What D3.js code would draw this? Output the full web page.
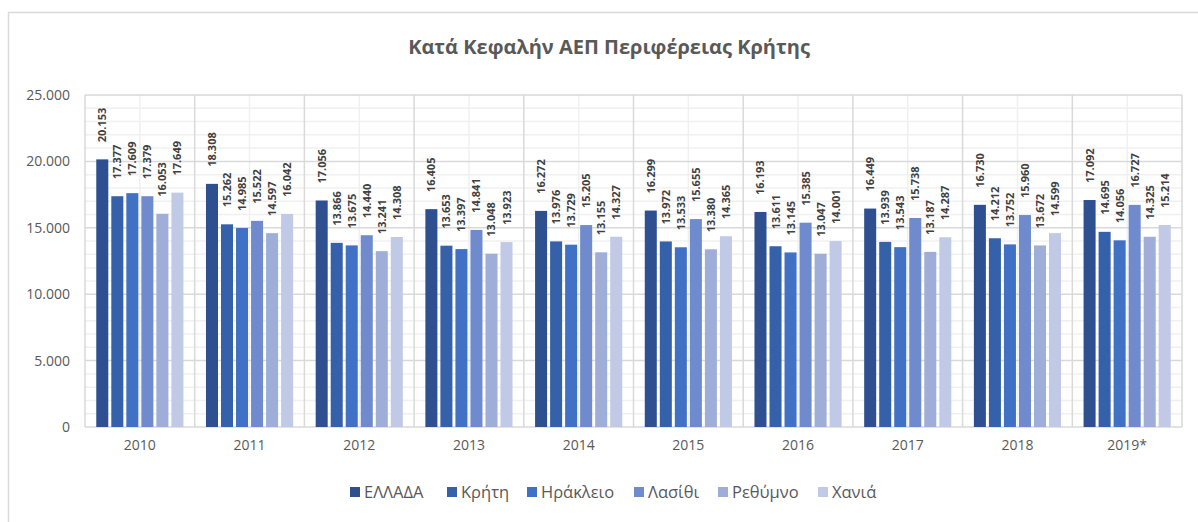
<!DOCTYPE html>
<html lang="el">
<head>
<meta charset="UTF-8">
<title>Κατά Κεφαλήν ΑΕΠ Περιφέρειας Κρήτης</title>
<script src="https://d3js.org/d3.v7.min.js"></script>
<style>
  body { margin: 0; background: #fff; }
  svg text { font-family: "Open Sans", "Segoe UI", sans-serif; }
</style>
</head>
<body>
<svg id="chart" width="1198" height="522"></svg>
<script>
// data
const years = ["2010", "2011", "2012", "2013", "2014", "2015", "2016", "2017", "2018", "2019*"];
const regions = ["ΕΛΛΑΔΑ", "Κρήτη", "Ηράκλειο", "Λασίθι", "Ρεθύμνο", "Χανιά"];
const ellada   = [20153, 18308, 17056, 16405, 16272, 16299, 16193, 16449, 16730, 17092];
const kriti    = [17377, 15262, 13866, 13653, 13976, 13972, 13611, 13939, 14212, 14695];
const irakleio = [17609, 14985, 13675, 13397, 13729, 13533, 13145, 13543, 13752, 14056];
const lasithi  = [17379, 15522, 14440, 14841, 15205, 15655, 15385, 15738, 15960, 16727];
const rethymno = [16053, 14597, 13241, 13048, 13155, 13380, 13047, 13187, 13672, 14325];
const chania   = [17649, 16042, 14308, 13923, 14327, 14365, 14001, 14287, 14599, 15214];
const yTicks = [0, 5000, 10000, 15000, 20000, 25000];

const seriesValues = [ellada, kriti, irakleio, lasithi, rethymno, chania];
const colors = ["#2f5090", "#3560aa", "#4171c4", "#6f8bcd", "#9eaed9", "#c0cae7"];

const svg = d3.select("#chart");
const fmt = d => d3.format(",")(d).replace(/,/g, ".");

const margin = { left: 85, right: 1182, top: 95, bottom: 427 };

// outer frame
svg.append("rect")
    .attr("x", 8.5).attr("y", 12.5)
    .attr("width", 1200).attr("height", 520)
    .attr("fill", "none").attr("stroke", "#d9d9d9").attr("stroke-width", 1.5);

const x = d3.scaleBand().domain(years).range([margin.left, margin.right]);
const xInner = d3.scaleBand().domain(regions)
    .range([0, x.bandwidth()]).paddingInner(0.2).paddingOuter(0.75);
const y = d3.scaleLinear().domain([0, 25000]).range([margin.bottom, margin.top]);

const grid = svg.append("g");
// minor horizontal grid
d3.range(1000, 25000, 1000).filter(v => v % 5000).forEach(v => {
    grid.append("line")
        .attr("x1", margin.left).attr("x2", margin.right)
        .attr("y1", y(v)).attr("y2", y(v))
        .attr("stroke", "#f0f0f0").attr("stroke-width", 1.5);
});
// minor vertical grid at category centres
years.forEach(c => {
    const cx = x(c) + x.bandwidth() / 2;
    grid.append("line")
        .attr("x1", cx).attr("x2", cx)
        .attr("y1", margin.top).attr("y2", margin.bottom)
        .attr("stroke", "#f0f0f0").attr("stroke-width", 1.5);
});
// major horizontal grid
yTicks.forEach(v => {
    grid.append("line")
        .attr("x1", margin.left).attr("x2", margin.right)
        .attr("y1", y(v)).attr("y2", y(v))
        .attr("stroke", "#d9d9d9").attr("stroke-width", 1.5);
});
// major vertical grid at category boundaries
years.concat([null]).forEach(c => {
    const bx = c ? x(c) : margin.right;
    grid.append("line")
        .attr("x1", bx).attr("x2", bx)
        .attr("y1", margin.top).attr("y2", margin.bottom)
        .attr("stroke", "#d9d9d9").attr("stroke-width", 1.5);
});

// y axis labels
const yAxis = svg.append("g")
    .attr("transform", `translate(${margin.left - 15},0)`)
    .call(d3.axisLeft(y).tickValues(yTicks).tickSize(0).tickFormat(fmt));
yAxis.select(".domain").remove();
yAxis.selectAll("text")
    .attr("x", 0)
    .attr("fill", "#595959").style("font-size", "14px");

// x axis labels
const xAxis = svg.append("g")
    .attr("transform", `translate(0,${margin.bottom})`)
    .call(d3.axisBottom(x).tickSize(0));
xAxis.select(".domain").remove();
xAxis.selectAll("text")
    .attr("y", 13)
    .attr("fill", "#595959").style("font-size", "14px");

// bars and labels
const groups = svg.selectAll("g.year")
    .data(years)
    .join("g")
    .attr("class", "year")
    .attr("transform", d => `translate(${x(d)},0)`);

groups.each(function(year, i) {
    const g = d3.select(this);
    regions.forEach((r, j) => {
        const v = seriesValues[j][i];
        const bx = xInner(r);
        g.append("rect")
            .attr("x", bx).attr("y", y(v))
            .attr("width", xInner.bandwidth())
            .attr("height", y(0) - y(v))
            .attr("fill", colors[j]);
        const lx = bx + xInner.bandwidth() / 2 + 4;
        const ly = y(v) - 17;
        g.append("text")
            .attr("transform", `translate(${lx},${ly}) rotate(-90)`)
            .attr("text-anchor", "start")
            .attr("fill", "#404040")
            .style("font-size", "11px")
            .style("font-weight", "bold")
            .text(fmt(v));
    });
});

// title
svg.append("text")
    .attr("x", 609).attr("y", 54)
    .attr("text-anchor", "middle")
    .attr("fill", "#595959")
    .style("font-size", "20px")
    .style("font-weight", "bold")
    .text("Κατά Κεφαλήν ΑΕΠ Περιφέρειας Κρήτης");

// legend
const legendX = [350, 447, 527, 634, 718, 818];
const legend = svg.append("g");
regions.forEach((r, j) => {
    legend.append("rect")
        .attr("x", legendX[j]).attr("y", 487)
        .attr("width", 10).attr("height", 10)
        .attr("fill", colors[j]);
    legend.append("text")
        .attr("x", legendX[j] + 14).attr("y", 498)
        .attr("fill", "#595959")
        .style("font-size", "16.5px")
        .text(r);
});
</script>
</body>
</html>
